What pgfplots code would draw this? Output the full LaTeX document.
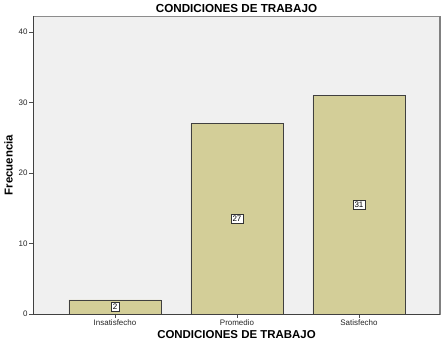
\documentclass[border=0pt]{standalone}
\usepackage{pgfplots}
\usepackage{pgfplotstable}
\pgfplotsset{compat=1.18}
\usepackage{fontspec}
\setmainfont{Liberation Sans}
\definecolor{barfill}{RGB}{211,206,152}
\definecolor{plotbg}{RGB}{240,240,240}
\pgfplotstableread{
x y
0 2
1 27
2 31
}\datatable
\begin{document}
\begin{tikzpicture}
\begin{axis}[
  name=ax,
  scale only axis,
  width=407bp, height=298bp,
  xmin=-0.672, xmax=2.664,
  ymin=0, ymax=42.3,
  axis background/.style={fill=plotbg},
  axis line style={draw=black!45, line width=0.8pt},
  xtick=data,
  xticklabels={Insatisfecho,Promedio,Satisfecho},
  ytick={0,10,20,30,40},
  tick align=outside,
  tick pos=left,
  major tick length=3.5bp,
  tick style={black!70, line width=0.6pt},
  ticklabel style={font=\fontsize{8}{9}\selectfont, text=black!85},
  /pgf/number format/assume math mode=true,
  xticklabel style={yshift=1bp},
  yticklabel style={xshift=1.5bp},
  title={\textbf{CONDICIONES DE TRABAJO}},
  title style={font=\fontsize{11.7}{13}\selectfont, yshift=-6.5bp},
  xlabel={\textbf{CONDICIONES DE TRABAJO}},
  xlabel style={font=\fontsize{11.5}{13}\selectfont, yshift=2.5bp},
  ylabel={\textbf{Frecuencia}},
  ylabel style={font=\fontsize{11.5}{13}\selectfont, yshift=-1bp},
  clip=false,
]
\addplot[ybar, bar width=92bp, fill=barfill, draw=black!75, line width=0.6pt]
  table[x=x, y=y] {\datatable};
\addplot[only marks, mark=none, draw=none,
  nodes near coords,
  point meta=explicit,
  nodes near coords style={anchor=center, fill=white, draw=black!80, line width=0.4pt,
    inner sep=1.5bp, font=\fontsize{8}{9}\selectfont, /pgf/number format/assume math mode=true}]
  table[x=x, y expr=\thisrow{y}/2, meta=y] {\datatable};
\draw[black!50, line width=1.4pt] (rel axis cs:1,0) -- (rel axis cs:1,1);
\draw[black!75, line width=0.8pt] (rel axis cs:0,1) -- (rel axis cs:0,0) -- (rel axis cs:1,0);
\end{axis}
\pgfresetboundingbox
\path[use as bounding box] ([xshift=-33bp,yshift=-28bp]ax.south west) rectangle ([xshift=5bp,yshift=16bp]ax.north east);
\end{tikzpicture}
\end{document}
